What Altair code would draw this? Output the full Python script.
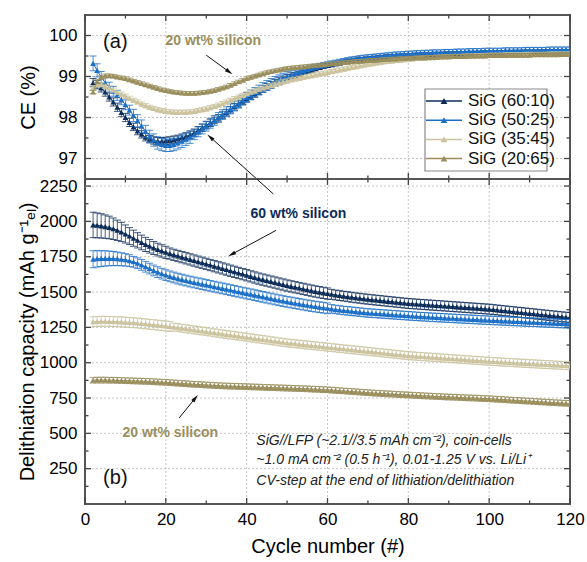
import altair as alt
import pandas as pd

# ---------------- data ----------------
cycles = list(range(2, 121))
series_names = ["SiG (60:10)", "SiG (50:25)", "SiG (35:45)", "SiG (20:65)"]
series_colors = ["#0c2c5a", "#1b6fc7", "#cbc39d", "#998e5c"]

ce_6010 = [
    98.85, 98.80, 98.72, 98.62, 98.50, 98.38, 98.25, 98.12, 98.00, 97.88,
    97.77, 97.67, 97.59, 97.52, 97.47, 97.44, 97.42, 97.42, 97.43, 97.44,
    97.46, 97.48, 97.51, 97.54, 97.58, 97.63, 97.69, 97.75, 97.81, 97.87,
    97.93, 97.99, 98.06, 98.12, 98.19, 98.26, 98.33, 98.40, 98.46, 98.52,
    98.58, 98.64, 98.70, 98.75, 98.80, 98.85, 98.89, 98.93, 98.97, 99.01,
    99.04, 99.07, 99.10, 99.13, 99.16, 99.19, 99.22, 99.25, 99.27, 99.29,
    99.31, 99.33, 99.35, 99.37, 99.38, 99.40, 99.41, 99.42, 99.43, 99.44,
    99.45, 99.46, 99.47, 99.48, 99.49, 99.49, 99.50, 99.50, 99.51, 99.51,
    99.52, 99.52, 99.53, 99.53, 99.53, 99.54, 99.54, 99.54, 99.55, 99.55,
    99.55, 99.55, 99.56, 99.56, 99.56, 99.56, 99.57, 99.57, 99.57, 99.57,
    99.58, 99.58, 99.58, 99.58, 99.58, 99.59, 99.59, 99.59, 99.59, 99.59,
    99.59, 99.60, 99.60, 99.60, 99.60, 99.60, 99.60, 99.61, 99.61]
ce_5025 = [
    99.32, 99.15, 98.98, 98.85, 98.74, 98.64, 98.54, 98.43, 98.31, 98.18,
    98.05, 97.92, 97.79, 97.66, 97.54, 97.45, 97.38, 97.34, 97.32, 97.32,
    97.34, 97.38, 97.42, 97.47, 97.52, 97.58, 97.65, 97.72, 97.79, 97.86,
    97.93, 98.00, 98.07, 98.14, 98.21, 98.28, 98.35, 98.42, 98.49, 98.55,
    98.61, 98.67, 98.73, 98.78, 98.83, 98.88, 98.92, 98.96, 99.00, 99.04,
    99.08, 99.11, 99.14, 99.17, 99.20, 99.23, 99.26, 99.28, 99.30, 99.32,
    99.34, 99.36, 99.38, 99.40, 99.42, 99.43, 99.45, 99.46, 99.47, 99.48,
    99.49, 99.50, 99.51, 99.52, 99.53, 99.54, 99.54, 99.55, 99.56, 99.56,
    99.57, 99.57, 99.58, 99.58, 99.59, 99.59, 99.59, 99.60, 99.60, 99.60,
    99.61, 99.61, 99.61, 99.62, 99.62, 99.62, 99.62, 99.63, 99.63, 99.63,
    99.63, 99.63, 99.64, 99.64, 99.64, 99.64, 99.64, 99.65, 99.65, 99.65,
    99.65, 99.65, 99.65, 99.66, 99.66, 99.66, 99.66, 99.66, 99.66]
ce_3545 = [
    98.72, 98.80, 98.80, 98.76, 98.72, 98.67, 98.62, 98.57, 98.52, 98.47,
    98.42, 98.38, 98.33, 98.29, 98.25, 98.22, 98.19, 98.17, 98.15, 98.14,
    98.13, 98.13, 98.13, 98.13, 98.14, 98.15, 98.17, 98.19, 98.21, 98.24,
    98.27, 98.30, 98.34, 98.38, 98.42, 98.46, 98.50, 98.54, 98.58, 98.62,
    98.65, 98.69, 98.72, 98.75, 98.78, 98.81, 98.84, 98.87, 98.89, 98.92,
    98.94, 98.96, 98.98, 99.00, 99.02, 99.04, 99.06, 99.08, 99.10, 99.12,
    99.14, 99.16, 99.18, 99.20, 99.22, 99.24, 99.26, 99.28, 99.30, 99.31,
    99.33, 99.34, 99.36, 99.37, 99.38, 99.39, 99.40, 99.41, 99.42, 99.43,
    99.44, 99.44, 99.45, 99.46, 99.46, 99.47, 99.47, 99.48, 99.48, 99.49,
    99.49, 99.49, 99.50, 99.50, 99.50, 99.51, 99.51, 99.51, 99.52, 99.52,
    99.52, 99.52, 99.53, 99.53, 99.53, 99.53, 99.53, 99.54, 99.54, 99.54,
    99.54, 99.54, 99.54, 99.55, 99.55, 99.55, 99.55, 99.55, 99.55]
ce_2065 = [
    98.62, 98.88, 98.98, 99.02, 99.02, 99.01, 98.99, 98.97, 98.95, 98.92,
    98.89, 98.86, 98.83, 98.80, 98.77, 98.74, 98.71, 98.68, 98.66, 98.64,
    98.62, 98.61, 98.60, 98.59, 98.59, 98.59, 98.60, 98.61, 98.62, 98.64,
    98.66, 98.69, 98.72, 98.75, 98.79, 98.83, 98.87, 98.91, 98.95, 98.98,
    99.01, 99.04, 99.07, 99.10, 99.12, 99.14, 99.16, 99.18, 99.20, 99.21,
    99.22, 99.23, 99.24, 99.25, 99.26, 99.27, 99.28, 99.29, 99.30, 99.31,
    99.32, 99.33, 99.34, 99.35, 99.36, 99.37, 99.37, 99.38, 99.39, 99.40,
    99.40, 99.41, 99.42, 99.42, 99.43, 99.43, 99.44, 99.44, 99.45, 99.45,
    99.46, 99.46, 99.46, 99.47, 99.47, 99.47, 99.48, 99.48, 99.48, 99.49,
    99.49, 99.49, 99.49, 99.50, 99.50, 99.50, 99.50, 99.50, 99.51, 99.51,
    99.51, 99.51, 99.51, 99.52, 99.52, 99.52, 99.52, 99.52, 99.52, 99.53,
    99.53, 99.53, 99.53, 99.53, 99.53, 99.53, 99.54, 99.54, 99.54]

ce_err_6010 = [0.10] * 10 + [0.09] * 20 + [0.08] * 20 + [0.05] * 69
ce_err_5025 = [0.18, 0.16, 0.14, 0.12, 0.12, 0.12, 0.12, 0.12, 0.12, 0.12] + [0.15] * 15 + [0.12] * 25 + [0.06] * 69
ce_err_3545 = [0.05] * 119
ce_err_2065 = [0.04] * 119

cap_6010 = [
    1975, 1972, 1968, 1963, 1957, 1948, 1937, 1925, 1911, 1896,
    1881, 1866, 1851, 1837, 1824, 1812, 1801, 1791, 1781, 1772,
    1763, 1755, 1747, 1739, 1731, 1723, 1715, 1707, 1699, 1691,
    1683, 1675, 1667, 1659, 1651, 1643, 1635, 1627, 1619, 1611,
    1603, 1595, 1588, 1581, 1574, 1567, 1560, 1553, 1546, 1540,
    1534, 1528, 1522, 1516, 1510, 1504, 1499, 1494, 1489, 1484,
    1479, 1475, 1471, 1467, 1463, 1459, 1456, 1452, 1449, 1446,
    1443, 1440, 1437, 1434, 1431, 1428, 1425, 1422, 1419, 1417,
    1415, 1413, 1411, 1409, 1407, 1405, 1403, 1401, 1399, 1397,
    1395, 1393, 1391, 1389, 1387, 1385, 1383, 1381, 1379, 1376,
    1373, 1370, 1367, 1364, 1361, 1358, 1355, 1352, 1349, 1346,
    1343, 1340, 1337, 1334, 1331, 1328, 1325, 1322, 1320]
cap_5025 = [
    1732, 1735, 1737, 1738, 1738, 1737, 1735, 1732, 1728, 1722,
    1714, 1704, 1692, 1679, 1666, 1653, 1641, 1630, 1620, 1611,
    1603, 1595, 1588, 1581, 1574, 1568, 1562, 1556, 1550, 1544,
    1538, 1532, 1526, 1520, 1514, 1508, 1502, 1496, 1490, 1484,
    1478, 1472, 1466, 1460, 1454, 1448, 1442, 1436, 1431, 1426,
    1421, 1416, 1411, 1406, 1401, 1397, 1393, 1389, 1385, 1381,
    1377, 1373, 1370, 1367, 1364, 1361, 1358, 1355, 1352, 1350,
    1348, 1346, 1344, 1342, 1340, 1338, 1336, 1334, 1332, 1330,
    1328, 1326, 1325, 1323, 1321, 1320, 1318, 1317, 1315, 1314,
    1312, 1311, 1309, 1308, 1306, 1305, 1303, 1302, 1300, 1299,
    1298, 1296, 1295, 1294, 1292, 1291, 1290, 1288, 1287, 1286,
    1285, 1283, 1282, 1281, 1280, 1278, 1277, 1276, 1275]
cap_3545 = [
    1290, 1292, 1293, 1293, 1292, 1291, 1290, 1289, 1287, 1285,
    1283, 1281, 1278, 1275, 1272, 1269, 1266, 1263, 1260, 1256,
    1252, 1248, 1244, 1240, 1236, 1232, 1228, 1224, 1220, 1216,
    1212, 1208, 1204, 1200, 1196, 1192, 1188, 1184, 1180, 1176,
    1172, 1168, 1164, 1160, 1156, 1152, 1148, 1144, 1140, 1137,
    1134, 1131, 1128, 1125, 1122, 1119, 1116, 1113, 1110, 1107,
    1104, 1101, 1098, 1095, 1092, 1089, 1086, 1083, 1080, 1077,
    1074, 1071, 1068, 1065, 1062, 1059, 1056, 1053, 1050, 1048,
    1046, 1044, 1042, 1040, 1038, 1036, 1034, 1032, 1030, 1028,
    1026, 1024, 1022, 1020, 1018, 1016, 1014, 1012, 1010, 1008,
    1007, 1005, 1003, 1002, 1000, 998, 997, 995, 993, 992,
    990, 989, 987, 986, 984, 983, 981, 980, 978]
cap_2065 = [
    876, 877, 877, 877, 876, 876, 875, 874, 873, 872,
    871, 870, 869, 868, 867, 865, 864, 862, 861, 859,
    857, 855, 853, 851, 849, 847, 846, 844, 842, 841,
    839, 838, 836, 835, 834, 833, 832, 831, 830, 829,
    828, 827, 826, 825, 824, 823, 822, 821, 820, 819,
    818, 817, 816, 815, 813, 812, 811, 809, 808, 806,
    804, 802, 800, 798, 796, 794, 792, 790, 788, 786,
    784, 783, 781, 779, 778, 776, 774, 773, 771, 770,
    768, 767, 765, 764, 762, 761, 760, 758, 757, 756,
    755, 753, 752, 751, 750, 749, 747, 746, 745, 743,
    741, 740, 738, 736, 734, 733, 731, 729, 728, 726,
    724, 722, 721, 719, 717, 716, 714, 713, 712]

cap_err_6010 = [90, 88, 86, 83, 80, 76, 72, 68, 64, 60, 57, 54, 52, 50, 48, 46, 45, 44, 43] + [40] * 40 + [35] * 60
cap_err_5025 = [60, 58, 56, 54, 52, 50, 48, 46, 44, 42] + [38] * 49 + [30] * 60
cap_err_3545 = [35] * 20 + [28] * 99
cap_err_2065 = [20] * 119

x_labels = [0, 20, 40, 60, 80, 100, 120]
x_minor = [10, 30, 50, 70, 90, 110]
x_grid = [20, 40, 60, 80, 100]
ce_labels = [97, 98, 99, 100]
ce_minor = [97.5, 98.5, 99.5]
cap_labels = [250, 500, 750, 1000, 1250, 1500, 1750, 2000, 2250]
cap_minor = [125, 375, 625, 875, 1125, 1375, 1625, 1875, 2125]

all_ce = [ce_6010, ce_5025, ce_3545, ce_2065]
all_ce_err = [ce_err_6010, ce_err_5025, ce_err_3545, ce_err_2065]
all_cap = [cap_6010, cap_5025, cap_3545, cap_2065]
all_cap_err = [cap_err_6010, cap_err_5025, cap_err_3545, cap_err_2065]
for arr in all_ce + all_ce_err + all_cap + all_cap_err:
    assert len(arr) == len(cycles), len(arr)

rows = []
for name, ce, cee, cap, cape in zip(series_names, all_ce, all_ce_err, all_cap, all_cap_err):
    for c, a, ae, b, be in zip(cycles, ce, cee, cap, cape):
        rows.append(dict(series=name, cycle=c, ce=a, ce_lo=a - ae, ce_hi=a + ae,
                         cap=b, cap_lo=b - be, cap_hi=b + be))
df = pd.DataFrame(rows)

# ---------------- layout / style ----------------
FONT = "Liberation Sans"
W, HT, HB = 485, 164, 325
TICK = "#444444"
GRID = "#c4c4c4"

xs = alt.Scale(domain=[0, 120], nice=False, zero=False)
ys_ce = alt.Scale(domain=[96.5, 100.5], nice=False, zero=False)
ys_cap = alt.Scale(domain=[0, 2300], nice=False, zero=False)

ax_x_top = None
ax_x_bot = alt.Axis(title="Cycle number (#)", values=x_labels, ticks=False, domain=False, grid=False,
                    labelFontSize=17, titleFontSize=20, labelPadding=7, titlePadding=9, format="d",
                    labelFlush=False)
ax_y_top = alt.Axis(title="CE (%)", values=ce_labels, ticks=False, domain=False, grid=False,
                    labelFontSize=17, titleFontSize=20, labelPadding=8, titlePadding=10, format="d")
ax_y_bot = alt.Axis(title="Delithiation capacity (mAh g⁻¹ₑₗ)", values=cap_labels, ticks=False,
                    domain=False, grid=False, labelFontSize=17, titleFontSize=20,
                    labelPadding=8, titlePadding=2, format="d")


def frame_layers(ysc, H, yaxis, xaxis, ymaj, ymin):
    L = []
    gx = pd.DataFrame({"v": x_grid})
    L.append(alt.Chart(gx).mark_rule(color=GRID, strokeDash=[2, 2], strokeWidth=1).encode(
        x=alt.X("v:Q", scale=xs, axis=xaxis)))
    gy = pd.DataFrame({"v": ymaj})
    L.append(alt.Chart(gy).mark_rule(color=GRID, strokeDash=[2, 2], strokeWidth=1).encode(
        y=alt.Y("v:Q", scale=ysc, axis=yaxis)))
    for vals, ln in [(x_labels, 6), (x_minor, 3.5)]:
        d = pd.DataFrame({"v": vals})
        L.append(alt.Chart(d).mark_rule(color=TICK, strokeWidth=1.3).encode(
            x=alt.X("v:Q", scale=xs, axis=xaxis), y=alt.value(H), y2=alt.value(H - ln)))
        L.append(alt.Chart(d).mark_rule(color=TICK, strokeWidth=1.3).encode(
            x=alt.X("v:Q", scale=xs, axis=xaxis), y=alt.value(0), y2=alt.value(ln)))
    for vals, ln in [(ymaj, 6), (ymin, 3.5)]:
        d = pd.DataFrame({"v": vals})
        L.append(alt.Chart(d).mark_rule(color=TICK, strokeWidth=1.3).encode(
            y=alt.Y("v:Q", scale=ysc, axis=yaxis), x=alt.value(0), x2=alt.value(ln)))
        L.append(alt.Chart(d).mark_rule(color=TICK, strokeWidth=1.3).encode(
            y=alt.Y("v:Q", scale=ysc, axis=yaxis), x=alt.value(W), x2=alt.value(W - ln)))
    return L


def series_layers(field, ysc, yaxis, xaxis):
    L = []
    for name, col in zip(series_names, series_colors):
        base = alt.Chart(df).transform_filter(alt.datum.series == name)
        X = alt.X("cycle:Q", scale=xs, axis=xaxis)
        L.append(base.mark_rule(color=col, strokeWidth=1, opacity=0.75, clip=True).encode(
            x=X, y=alt.Y(f"{field}_lo:Q", scale=ysc, axis=yaxis), y2=f"{field}_hi:Q"))
        for end in ("lo", "hi"):
            L.append(base.mark_tick(color=col, orient="horizontal", size=7, thickness=1,
                                    opacity=0.8, clip=True).encode(
                x=X, y=alt.Y(f"{field}_{end}:Q", scale=ysc, axis=yaxis)))
        L.append(base.mark_line(color=col, strokeWidth=1, clip=True).encode(
            x=X, y=alt.Y(f"{field}:Q", scale=ysc, axis=yaxis)))
        L.append(base.mark_point(shape="triangle-up", filled=True, size=34, color=col,
                                 opacity=1, clip=True).encode(
            x=X, y=alt.Y(f"{field}:Q", scale=ysc, axis=yaxis)))
    return L


ARROW = "M0,-1L0.5,1L-0.5,1Z"


def arrow(x1, y1, x2, y2, ang, ysc, yaxis, xaxis, head=True):
    d = pd.DataFrame({"x": [x1], "y": [y1], "x2": [x2], "y2": [y2]})
    L = [alt.Chart(d).mark_rule(color="#111111", strokeWidth=1).encode(
        x=alt.X("x:Q", scale=xs, axis=xaxis), y=alt.Y("y:Q", scale=ysc, axis=yaxis),
        x2="x2:Q", y2="y2:Q")]
    if head:
        L.append(alt.Chart(d).mark_point(shape=ARROW, filled=True, size=64, color="#111111",
                                         opacity=1, angle=ang).encode(
            x=alt.X("x2:Q", scale=xs, axis=xaxis), y=alt.Y("y2:Q", scale=ysc, axis=yaxis)))
    return L


def label(txt, x, y, ysc, yaxis, xaxis, **kw):
    d = pd.DataFrame({"t": [txt], "x": [x], "y": [y]})
    return alt.Chart(d).mark_text(font=FONT, **kw).encode(
        x=alt.X("x:Q", scale=xs, axis=xaxis), y=alt.Y("y:Q", scale=ysc, axis=yaxis), text="t:N")


# ---------------- top panel ----------------
top_layers = frame_layers(ys_ce, HT, ax_y_top, ax_x_top, ce_labels, ce_minor)
top_layers += series_layers("ce", ys_ce, ax_y_top, ax_x_top)
top_layers.append(label("(a)", 7.5, 99.85, ys_ce, ax_y_top, ax_x_top, fontSize=20, color="#111111"))
top_layers.append(label("20 wt% silicon", 31.75, 99.86, ys_ce, ax_y_top, ax_x_top,
                        fontSize=14, fontWeight="bold", color="#9a8f5e"))
top_layers += arrow(30.0, 99.52, 35.7, 99.11, 126.5, ys_ce, ax_y_top, ax_x_top)
top_layers += arrow(42.5, 96.5, 31.0, 97.52, 312.1, ys_ce, ax_y_top, ax_x_top)

# manual legend box
top_layers.append(alt.Chart(pd.DataFrame({"k": [0]})).mark_rect(
    fill="white", stroke="#8a8a8a", strokeWidth=1.2).encode(
    x=alt.value(340), x2=alt.value(462), y=alt.value(74), y2=alt.value(156)))
for i, (name, col) in enumerate(zip(series_names, series_colors)):
    yy = 86 + 19.2 * i
    dd = pd.DataFrame({"series": [name]})
    top_layers.append(alt.Chart(dd).mark_rule(color=col, strokeWidth=1.5).encode(
        x=alt.value(341), x2=alt.value(377), y=alt.value(yy)))
    top_layers.append(alt.Chart(dd).mark_point(shape="triangle-up", filled=True, size=45,
                                               color=col, opacity=1).encode(
        x=alt.value(359), y=alt.value(yy)))
    top_layers.append(alt.Chart(dd).mark_text(font=FONT, fontSize=17, align="left",
                                              baseline="middle", color="#111111").encode(
        x=alt.value(383), y=alt.value(yy), text="series:N"))

top = alt.layer(*top_layers).properties(width=W, height=HT)

# ---------------- bottom panel ----------------
bot_layers = frame_layers(ys_cap, HB, ax_y_bot, ax_x_bot, cap_labels, cap_minor)
bot_layers += series_layers("cap", ys_cap, ax_y_bot, ax_x_bot)
bot_layers += arrow(42.5, 2300, 46.6, 2194, 0, ys_cap, ax_y_bot, ax_x_bot, head=False)
bot_layers.append(label("60 wt% silicon", 52.8, 2052, ys_cap, ax_y_bot, ax_x_bot,
                        fontSize=14, fontWeight="bold", color="#0c2c5a"))
bot_layers += arrow(47.3, 1937, 36.3, 1767, 241.6, ys_cap, ax_y_bot, ax_x_bot)
bot_layers.append(label("20 wt% silicon", 21.1, 502, ys_cap, ax_y_bot, ax_x_bot,
                        fontSize=14, fontWeight="bold", color="#9a8f5e"))
bot_layers += arrow(23.3, 609, 27.3, 750, 38.7, ys_cap, ax_y_bot, ax_x_bot)
bot_layers.append(label("(b)", 7.5, 184, ys_cap, ax_y_bot, ax_x_bot, fontSize=20, color="#111111"))
info_lines = ["SiG//LFP (~2.1//3.5 mAh cm⁻²), coin-cells",
              "~1.0 mA cm⁻² (0.5 h⁻¹), 0.01-1.25 V vs. Li/Li⁺",
              "CV-step at the end of lithiation/delithiation"]
for txt, yv in zip(info_lines, [446, 311, 163]):
    bot_layers.append(label(txt, 42.4, yv, ys_cap, ax_y_bot, ax_x_bot, fontSize=14,
                            fontStyle="italic", align="left", color="#222222"))

bottom = alt.layer(*bot_layers).properties(width=W, height=HB)

chart = alt.vconcat(top, bottom, spacing=0, bounds="flush").properties(
    padding={"left": 16, "top": 13, "right": 0, "bottom": 5}
).configure_view(stroke="#555555", strokeWidth=2).configure_axis(
    labelFont=FONT, titleFont=FONT, labelColor="#000000", titleColor="#000000",
    titleFontWeight="normal"
).configure_concat(spacing=0)

chart.save("out.html", embed_options={"renderer": "svg", "actions": False})
